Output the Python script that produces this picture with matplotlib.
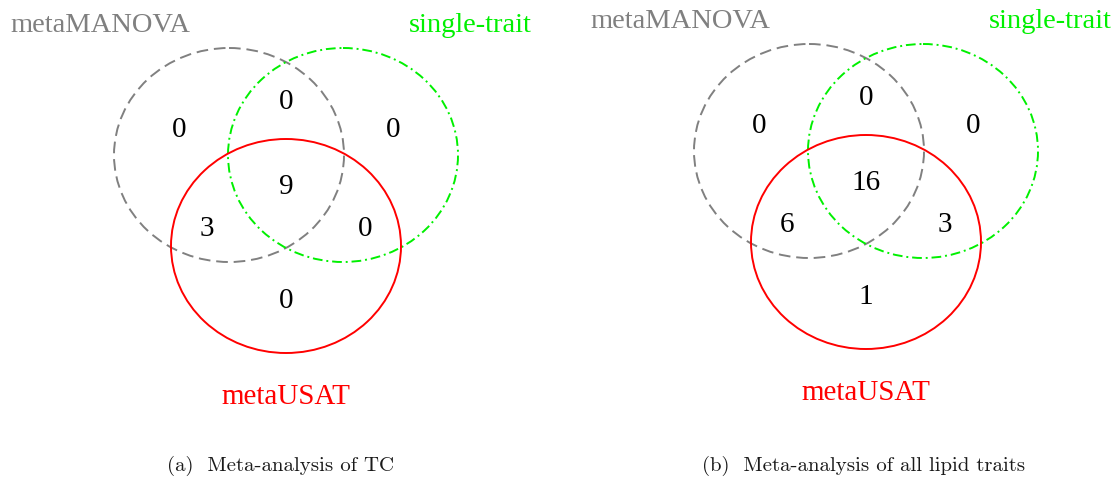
import matplotlib.pyplot as plt
from matplotlib.patches import Ellipse

# sets and counts
set_names = ['metaMANOVA', 'single-trait', 'metaUSAT']
set_colors = ['#808080', '#00f000', '#ff0000']
set_styles = [(0, (6, 3)), (0, (5, 2, 1, 2)), '-']

# region order: M only, M&S, S only, all three, M&U, S&U, U only
counts_tc = [0, 0, 0, 9, 3, 0, 0]
counts_all = [0, 0, 0, 16, 6, 3, 1]
captions = ['(a)  Meta-analysis of TC', '(b)  Meta-analysis of all lipid traits']

# layout (pixels, relative to panel center)
circle_w, circle_h = 230, 214
circle_off = [(-57, 0), (57, 0), (0, 91)]
region_off = [(-107, -26), (0, -54), (107, -26), (0, 31), (-79, 73), (79, 73), (0, 145)]

fig = plt.figure(figsize=(11.19, 4.81), dpi=100)
ax = fig.add_axes([0, 0, 1, 1])
ax.set_xlim(0, 1119)
ax.set_ylim(481, 0)
ax.axis('off')

panels = [(286, 156, counts_tc, 10, 532, 281), (866, 152, counts_all, 590, 1112, 864)]

for i, (cx, cy, counts, lx, rx, capx) in enumerate(panels):
    for (dx, dy), col, ls in zip(circle_off, set_colors, set_styles):
        ax.add_patch(Ellipse((cx + dx, cy + dy), circle_w, circle_h, fill=False,
                             edgecolor=col, linestyle=ls, linewidth=1.4))
    for (dx, dy), n in zip(region_off, counts):
        ax.text(cx + dx, cy + dy, str(n), ha='center', va='center',
                fontsize=21, family='Liberation Serif', color='black')
    ax.text(lx, cy - 130, set_names[0], ha='left', va='center',
            fontsize=20.5, family='Liberation Serif', color=set_colors[0])
    ax.text(rx, cy - 130, set_names[1], ha='right', va='center',
            fontsize=20.5, family='Liberation Serif', color=set_colors[1])
    ax.text(cx, cy + 241, set_names[2], ha='center', va='center',
            fontsize=21, family='Liberation Serif', color=set_colors[2])
    ax.text(capx, 466, captions[i], ha='center', va='center',
            fontsize=15, family='cmr10', color='#1a1a1a')

fig.savefig('out.png', dpi=100)
